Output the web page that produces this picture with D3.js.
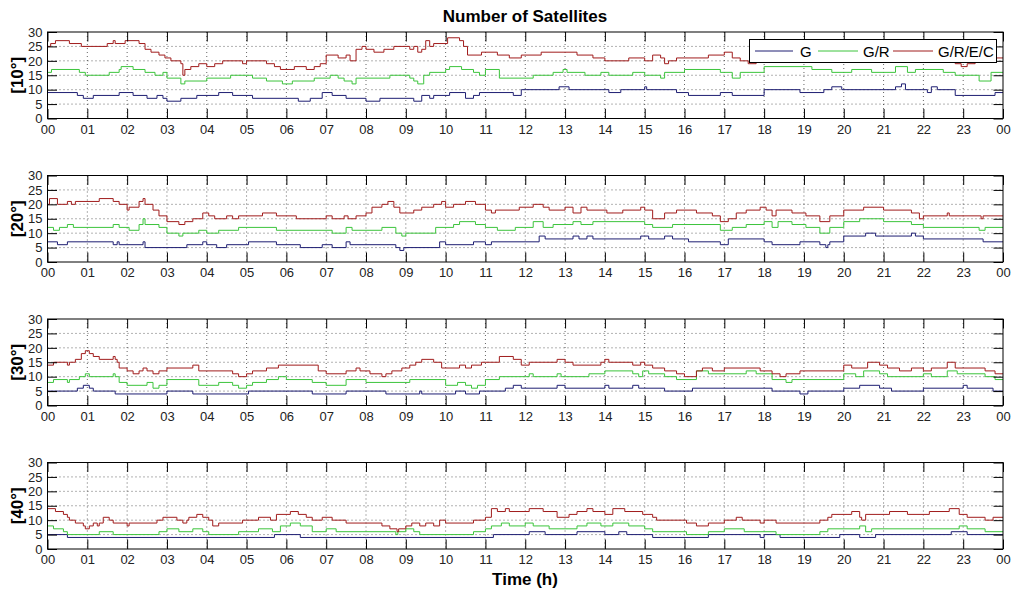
<!DOCTYPE html>
<html>
<head>
<meta charset="utf-8">
<script src="https://cdn.jsdelivr.net/npm/d3@7"></script>
<style>
  body { margin: 0; background: #fff; }
  svg { display: block; font-family: "Liberation Sans", Arial, sans-serif; }
</style>
</head>
<body>
<div id="vis"></div>
<script>
var width = 1024, height = 594;

// Data: step series as [hour, satellites] change points
var panelLabels = ["[10°]", "[20°]", "[30°]", "[40°]"];
var seriesNames = ["G", "G/R", "G/R/E/C"];
var seriesColors = ["#1e1e72", "#3cc43c", "#a01c1c"];
var yTicks = [0, 5, 10, 15, 20, 25, 30];
var hourTicks = d3.range(0, 25);

var g10 = [[0,9],[0.75,8],[0.9,7],[1.15,8],[1.8,9],[2.15,8],[2.5,7],[2.75,8],[2.9,7],[3.0,6],[3.35,7],[3.75,8],[4.3,9],[4.65,8],[5.15,7],[6.3,6],[6.6,7],[6.9,9],[7.15,8],[7.5,7],[8.0,6],[8.35,7],[9.2,6],[9.4,8],[9.6,7],[9.7,8],[10.1,9],[10.5,7],[10.7,8],[10.85,9],[11.7,8],[11.9,10],[12.85,11],[13.1,10],[14.1,9],[14.4,10],[15.0,11],[15.05,10],[15.8,9],[16.1,8],[16.9,9],[17.2,8],[18.0,10],[18.9,9],[19.5,10],[19.7,11],[19.95,10],[21.3,11],[21.45,12],[21.55,10],[22.1,9],[22.2,11],[22.35,10],[22.8,8],[23.8,9]];
var gr10 = [[0,16],[0.1,17],[0.8,16],[0.95,15],[1.55,16],[1.8,17],[1.85,18],[2.15,17],[2.45,16],[2.7,15],[2.9,16],[3.0,14],[3.35,12],[3.45,13],[4.0,14],[4.6,15],[5.15,14],[5.5,13],[5.9,12],[6.15,13],[6.7,14],[7.1,15],[7.3,14],[7.45,13],[7.65,12],[7.75,14],[8.6,15],[9.1,14],[9.2,13],[9.3,12],[9.45,15],[9.6,16],[10.0,17],[10.1,18],[10.4,17],[10.7,16],[10.85,15],[11.0,17],[11.35,14],[12.2,15],[12.7,16],[12.95,17],[13.05,16],[13.5,15],[13.9,16],[14.1,15],[14.7,16],[15.0,15],[15.4,14],[15.5,16],[16.0,17],[16.9,16],[17.2,14],[17.4,16],[18.0,18],[19.2,17],[19.7,16],[20.2,17],[20.7,16],[21.3,18],[21.6,16],[21.8,17],[22.5,16],[22.8,15],[23.4,13],[23.7,16]];
var grec10 = [[0,25],[0.08,26],[0.2,27],[0.55,26],[0.85,25],[1.5,26],[1.65,27],[1.7,26],[1.95,27],[2.3,26],[2.45,24],[2.6,23],[2.8,22],[2.95,21],[3.1,20],[3.35,19],[3.4,15],[3.45,17],[3.6,18],[3.8,19],[4.0,18],[4.2,19],[4.4,20],[4.9,19],[5.0,20],[5.5,19],[5.7,18],[5.85,17],[6.2,18],[6.5,17],[6.7,18],[6.85,19],[7.0,22],[7.3,21],[7.5,22],[7.6,20],[7.75,24],[7.9,25],[8.0,24],[8.2,23],[8.45,24],[8.7,25],[9.1,24],[9.2,25],[9.3,23],[9.4,24],[9.5,27],[9.6,25],[9.7,26],[10.05,28],[10.35,27],[10.45,25],[10.55,22],[10.9,23],[11.3,22],[11.6,21],[11.9,22],[12.4,23],[13.3,22],[13.7,21],[14.0,20],[14.6,21],[15.0,20],[15.2,22],[15.4,21],[15.5,19],[15.6,20],[15.8,21],[16.6,22],[17.0,23],[17.2,21],[17.4,20],[17.6,19],[17.8,20],[18.0,21],[19.0,22],[20.0,21],[21.0,22],[22.0,21],[22.8,19],[22.95,18],[23.1,19],[23.3,20],[23.6,21]];

var g20 = [[0,7],[0.25,6],[0.5,7],[1.65,6],[1.75,7],[1.8,6],[2.4,7],[2.45,5],[3.5,6],[3.9,7],[4.0,6],[4.25,5],[4.5,6],[5.05,7],[5.75,6],[6.35,5],[6.9,6],[7.15,5],[7.5,7],[7.6,6],[8.75,5],[8.85,4],[8.95,5],[9.85,7],[10.0,6],[10.7,7],[11.0,6],[11.15,7],[12.35,9],[12.5,8],[13.2,9],[13.35,8],[13.55,9],[13.7,8],[14.9,9],[15.1,8],[15.5,9],[15.7,8],[16.1,7],[16.9,6],[17.1,8],[18.0,7],[18.2,6],[18.9,7],[19.4,6],[19.55,5],[19.6,6],[19.65,7],[20.0,9],[20.55,10],[20.8,9],[21.7,10],[21.8,9],[22.0,8],[23.5,7]];
var gr20 = [[0,12],[0.15,11],[0.3,12],[0.5,13],[0.65,12],[1.65,13],[1.8,12],[2.05,11],[2.3,13],[2.4,15],[2.45,13],[2.8,12],[3.0,10],[3.3,9],[3.4,10],[3.8,11],[4.0,10],[4.3,11],[4.8,12],[5.75,11],[7.15,10],[7.5,12],[7.65,11],[8.4,12],[8.75,10],[8.9,9],[9.0,10],[9.75,12],[10.2,13],[10.35,14],[10.75,13],[11.0,12],[11.3,11],[11.75,12],[12.2,14],[12.45,12],[12.7,13],[13.2,14],[13.4,13],[13.7,14],[15.0,13],[15.2,12],[15.7,13],[16.9,11],[17.2,12],[17.55,13],[18.0,14],[18.2,12],[18.35,14],[18.7,13],[19.05,12],[19.4,10],[19.65,12],[20.0,14],[20.4,15],[21.0,14],[21.7,13],[22.0,12],[23.4,11],[23.55,12]];
var grec20 = [[0,20],[0.05,22],[0.25,20],[0.5,21],[0.6,20],[0.7,21],[1.3,22],[1.65,21],[1.8,20],[2.0,18],[2.05,19],[2.3,21],[2.4,22],[2.45,20],[2.65,18],[2.8,16],[3.0,14],[3.3,13],[3.45,14],[3.65,15],[3.9,17],[4.05,16],[4.2,15],[4.5,16],[4.65,15],[4.8,16],[5.4,17],[5.75,16],[6.25,15],[7.0,16],[7.15,15],[7.45,16],[7.55,15],[7.75,16],[8.0,17],[8.15,19],[8.4,20],[8.55,21],[8.7,19],[8.85,17],[9.2,18],[9.4,19],[9.7,20],[9.9,21],[10.0,19],[10.2,20],[10.5,21],[10.75,20],[11.0,18],[11.15,17],[11.25,18],[11.85,19],[12.2,20],[12.45,19],[12.6,18],[13.0,19],[13.2,17],[13.4,19],[13.55,18],[14.05,17],[14.45,18],[14.9,19],[15.0,18],[15.2,15],[15.5,17],[15.8,18],[16.3,17],[16.7,16],[16.9,14],[17.1,15],[17.3,17],[17.55,18],[17.9,19],[18.05,18],[18.2,16],[18.3,18],[18.7,17],[19.05,16],[19.4,14],[19.65,16],[20.0,18],[20.5,19],[21.0,18],[21.7,17],[21.9,15],[22.0,16],[22.6,17],[22.65,16],[23.45,15],[23.5,16]];

var g30 = [[0,5],[0.75,6],[0.9,7],[1.05,6],[1.15,5],[1.7,4],[3.0,5],[3.65,4],[5.05,5],[6.65,4],[7.5,5],[8.5,4],[9.35,5],[9.4,4],[10.25,5],[10.5,4],[10.85,5],[11.5,6],[11.7,7],[11.9,6],[12.8,7],[13.0,6],[14.0,7],[14.1,6],[14.7,7],[14.85,6],[15.5,5],[16.2,6],[18.2,5],[18.9,4],[19.1,5],[20.0,6],[20.4,7],[20.9,6],[21.2,5],[22.0,6],[23.0,7],[23.1,6],[23.75,5]];
var gr30 = [[0,8],[0.15,9],[0.5,8],[0.55,9],[0.8,10],[0.95,11],[1.05,10],[1.65,11],[1.7,10],[1.8,8],[2.0,7],[2.5,8],[2.65,6],[2.8,7],[3.0,9],[3.8,7],[4.3,8],[4.65,7],[4.8,6],[5.0,7],[5.15,8],[5.5,9],[5.8,10],[6.0,9],[6.65,8],[7.0,7],[7.5,9],[8.0,8],[9.1,9],[10.0,7],[10.3,8],[10.5,7],[10.65,6],[10.8,7],[11.0,9],[11.35,10],[12.1,11],[12.2,10],[12.8,11],[12.9,10],[13.6,11],[14.0,12],[14.7,11],[14.85,10],[14.95,12],[15.1,11],[15.5,10],[15.8,9],[16.3,12],[16.6,11],[17.55,12],[17.8,11],[18.2,9],[18.55,8],[18.7,9],[20.0,11],[20.3,10],[20.5,12],[20.9,11],[21.1,10],[22.0,11],[22.2,10],[22.6,12],[22.85,11],[23.55,10],[23.8,9]];
var grec30 = [[0,14],[0.15,15],[0.5,14],[0.55,15],[0.7,16],[0.85,18],[0.95,19],[1.05,18],[1.15,17],[1.3,16],[1.65,17],[1.7,16],[1.75,15],[1.8,13],[2.0,12],[2.15,11],[2.3,12],[2.4,13],[2.5,12],[2.65,11],[2.8,12],[3.0,13],[3.65,14],[3.8,12],[4.65,11],[4.8,10],[5.0,11],[5.15,12],[5.5,13],[5.8,14],[6.8,12],[7.0,11],[7.5,12],[7.75,13],[7.85,12],[8.1,11],[8.4,10],[8.5,11],[8.65,12],[8.9,13],[9.1,14],[9.25,15],[9.4,16],[9.7,15],[9.9,13],[10.35,14],[10.5,13],[10.65,14],[10.9,15],[11.35,17],[11.7,16],[11.9,14],[12.1,15],[12.8,16],[13.0,15],[13.2,14],[13.9,15],[14.0,16],[14.1,15],[14.7,14],[14.9,15],[15.0,14],[15.2,13],[15.5,12],[15.8,11],[16.0,10],[16.3,12],[16.45,13],[16.7,12],[17.0,13],[17.9,12],[18.2,11],[18.4,10],[18.55,11],[18.9,12],[20.0,14],[20.2,13],[20.6,15],[20.9,14],[21.1,13],[21.4,12],[21.7,13],[22.0,12],[22.2,13],[22.6,15],[22.8,13],[23.55,12],[23.8,11]];

var g40 = [[0,5],[0.5,4],[5.7,5],[6.35,4],[11.2,5],[12.1,6],[12.5,5],[13.3,6],[14.0,5],[14.35,6],[14.55,5],[15.2,4],[16.6,5],[17.9,4],[18.0,5],[18.4,4],[19.9,5],[20.4,4],[20.8,5],[22.7,6],[23.1,5]];
var gr40 = [[0,8],[0.15,7],[0.4,6],[0.5,5],[1.3,6],[1.65,5],[2.8,6],[3.0,7],[3.3,6],[3.65,7],[3.9,6],[4.05,5],[4.8,6],[5.3,7],[5.65,6],[5.85,8],[6.1,9],[6.35,8],[6.65,6],[7.0,7],[7.25,6],[8.75,5],[8.8,6],[9.0,7],[9.2,6],[9.35,5],[10.7,6],[11.0,7],[11.15,8],[11.4,9],[11.6,8],[12.0,9],[12.2,8],[12.6,7],[13.3,8],[13.55,9],[13.9,8],[14.2,9],[14.6,8],[15.0,7],[15.2,6],[16.05,5],[16.6,6],[17.0,7],[17.5,6],[18.3,5],[19.4,6],[19.6,7],[20.4,8],[20.55,6],[20.7,7],[22.9,8],[23.1,7],[23.55,6]];
var grec40 = [[0,14],[0.2,13],[0.4,12],[0.5,11],[0.55,10],[0.7,9],[0.9,8],[0.95,7],[1.05,8],[1.15,9],[1.25,8],[1.3,9],[1.4,11],[1.55,10],[1.65,9],[2.0,8],[2.05,9],[2.75,10],[2.9,11],[3.25,10],[3.4,9],[3.5,10],[3.55,11],[3.75,12],[3.9,11],[4.05,10],[4.15,8],[4.3,9],[4.9,10],[5.3,11],[5.6,10],[5.75,12],[6.1,13],[6.3,12],[6.5,11],[6.65,10],[6.9,11],[7.15,10],[7.5,9],[8.4,8],[8.6,7],[8.78,6],[8.82,7],[9.0,8],[9.15,9],[9.35,8],[9.5,9],[9.7,8],[9.85,10],[10.0,9],[10.7,10],[11.0,11],[11.15,14],[11.3,13],[11.5,14],[11.6,13],[12.1,14],[12.45,13],[12.8,11],[13.1,12],[13.3,13],[13.55,14],[13.7,13],[14.0,12],[14.2,14],[14.5,13],[14.95,12],[15.2,11],[15.3,10],[16.05,9],[16.3,8],[16.6,9],[17.0,10],[17.3,11],[17.45,10],[17.9,9],[18.0,10],[18.3,9],[19.4,10],[19.6,11],[19.7,12],[20.2,13],[20.4,11],[20.45,10],[20.55,12],[21.15,13],[21.6,12],[22.15,13],[22.65,14],[22.9,12],[23.1,11],[23.55,10],[23.75,11]];

var panels = [
  [g10, gr10, grec10],
  [g20, gr20, grec20],
  [g30, gr30, grec30],
  [g40, gr40, grec40]
];

var plotLeft = 47.5, plotRight = 1003;
var plotTop = 32, plotStep = 143.5, plotH = 86.5;
var tickLen = 9.5;

var svg = d3.select("#vis").append("svg")
    .attr("width", width)
    .attr("height", height);

var x = d3.scaleLinear().domain([0, 24]).range([plotLeft, plotRight]);

svg.append("text")
    .attr("x", 525)
    .attr("y", 22)
    .attr("text-anchor", "middle")
    .style("font-size", "17px")
    .style("font-weight", "bold")
    .text("Number of Satellites");

function drawPanel(i) {
    var top = plotTop + i * plotStep;
    var bottom = top + plotH;
    var y = d3.scaleLinear().domain([0, 30]).range([bottom, top]);
    var g = svg.append("g").attr("class", "panel");

    // grid
    g.selectAll(".vgrid")
        .data(hourTicks.slice(1, 24))
        .enter().append("line")
        .attr("x1", function(d) { return x(d); })
        .attr("x2", function(d) { return x(d); })
        .attr("y1", top).attr("y2", bottom)
        .attr("stroke", "#000")
        .attr("stroke-width", 1)
        .attr("stroke-dasharray", "1,3")
        .attr("opacity", 0.6);
    g.selectAll(".hgrid")
        .data(yTicks.slice(1, 6))
        .enter().append("line")
        .attr("x1", plotLeft).attr("x2", plotRight)
        .attr("y1", function(d) { return y(d); })
        .attr("y2", function(d) { return y(d); })
        .attr("stroke", "#000")
        .attr("stroke-width", 1)
        .attr("stroke-dasharray", "1,3")
        .attr("opacity", 0.6);

    // series
    var line = d3.line()
        .x(function(d) { return x(d[0]); })
        .y(function(d) { return y(d[1]); })
        .curve(d3.curveStepAfter);
    panels[i].forEach(function(s, k) {
        var pts = s.concat([[24, s[s.length - 1][1]]]);
        g.append("path")
            .attr("d", line(pts))
            .attr("fill", "none")
            .attr("stroke", seriesColors[k])
            .attr("stroke-width", 1);
    });

    // inward ticks (MATLAB style) on all four sides
    var xb = d3.axisBottom(x).tickValues(hourTicks).tickSizeInner(-tickLen).tickSizeOuter(0)
        .tickPadding(6)
        .tickFormat(function(d) { return d3.format("02d")(d % 24); });
    var xt = d3.axisTop(x).tickValues(hourTicks).tickSizeInner(-tickLen).tickSizeOuter(0).tickFormat("");
    var yl = d3.axisLeft(y).tickValues(yTicks).tickSizeInner(-tickLen).tickSizeOuter(0).tickPadding(5);
    var yr = d3.axisRight(y).tickValues(yTicks).tickSizeInner(-tickLen).tickSizeOuter(0).tickFormat("");

    var axB = g.append("g").attr("transform", "translate(0," + bottom + ")").call(xb);
    g.append("g").attr("transform", "translate(0," + top + ")").call(xt);
    g.append("g").attr("transform", "translate(" + plotLeft + ",0)").call(yl);
    g.append("g").attr("transform", "translate(" + plotRight + ",0)").call(yr);
    g.selectAll(".domain").remove();
    g.selectAll(".tick line").attr("stroke", "#000");
    g.selectAll(".tick text")
        .attr("fill", "#222")
        .style("font-size", "13px")
        .style("font-family", "'Liberation Sans', Arial, sans-serif");
    axB.selectAll(".tick text").attr("dy", "0.71em");

    // box
    g.append("rect")
        .attr("x", plotLeft).attr("y", top)
        .attr("width", plotRight - plotLeft).attr("height", plotH)
        .attr("fill", "none")
        .attr("stroke", "#000")
        .attr("stroke-width", 1);

    // panel label
    svg.append("text")
        .attr("transform", "translate(23," + (top + plotH / 2) + ") rotate(-90)")
        .attr("text-anchor", "middle")
        .style("font-size", "17px")
        .style("font-weight", "bold")
        .text(panelLabels[i]);
}

for (var i = 0; i < panels.length; i++) drawPanel(i);

// legend in the first panel
var legend = svg.append("g").classed("legend", true);
legend.append("rect")
    .attr("x", 749.5).attr("y", 39.5)
    .attr("width", 247).attr("height", 23)
    .attr("fill", "#fff")
    .attr("stroke", "#000");
var legendX = [[755, 793, 800], [818, 858, 863], [893, 933, 938]];
seriesNames.forEach(function(name, k) {
    legend.append("line")
        .attr("x1", legendX[k][0]).attr("x2", legendX[k][1])
        .attr("y1", 51).attr("y2", 51)
        .attr("stroke", seriesColors[k])
        .attr("stroke-width", 1);
    legend.append("text")
        .attr("x", legendX[k][2])
        .attr("y", 56.5)
        .style("font-size", "15px")
        .text(name);
});

svg.append("text")
    .attr("x", 525)
    .attr("y", 585)
    .attr("text-anchor", "middle")
    .style("font-size", "17px")
    .style("font-weight", "bold")
    .text("Time (h)");
</script>
</body>
</html>
